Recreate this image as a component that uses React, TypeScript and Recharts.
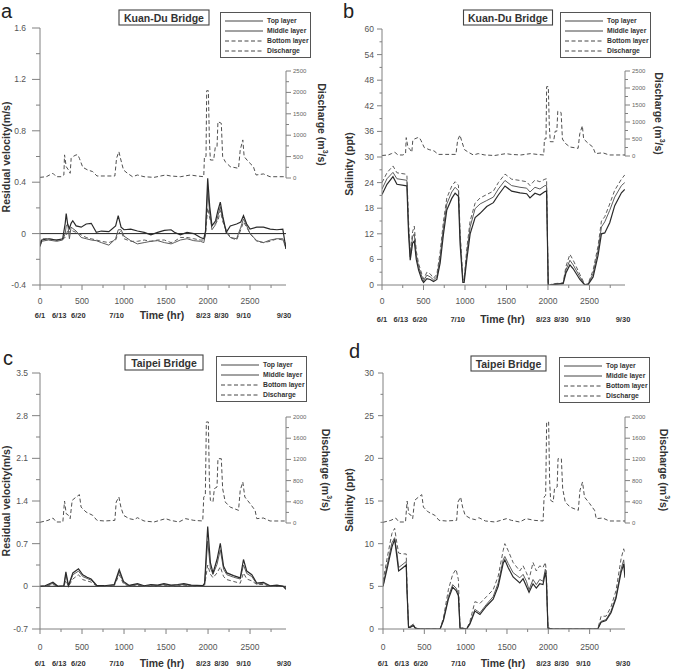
import { ComposedChart, Legend, Line, ReferenceLine, XAxis, YAxis } from "recharts";

const FONT = "Arial, 'Liberation Sans', Helvetica, sans-serif";
const AXIS = "#808080";
const INK = "#333";
const END_HR = 2928;

// time axis (hours from 6/1) and calendar marks
const hourTicks = [0, 250, 500, 750, 1000, 1250, 1500, 1750, 2000, 2250, 2500, 2750];
const dateHours = [0, 288, 456, 936, 1992, 2160, 2424, 2904];
const dateLabels = ["6/1", "6/13", "6/20", "7/10", "8/23", "8/30", "9/10", "9/30"];
// small sideways nudges so crowded date marks don't collide
const dateNudge = [0, -5, 0, -2, -4, 0, 0, 0];
const seriesNames = ["Top layer", "Middle layer", "Bottom layer", "Discharge"];

// river discharge (m3/s)
const qHoursKD = [
  0, 75, 114, 154, 193, 252, 284, 292, 312, 339,
  359, 371, 391, 430, 450, 469, 509, 568, 627, 678,
  765, 891, 911, 939, 963, 994, 1041, 1101, 1160, 1239,
  1357, 1495, 1554, 1673, 1791, 1870, 1949, 1957, 1976, 1984,
  2004, 2016, 2028, 2067, 2087, 2107, 2118, 2158, 2174, 2205,
  2264, 2363, 2383, 2414, 2430, 2481, 2540, 2572, 2659, 2738,
  2928,
];
const qKD = [
  15, 30, 70, 110, 30, 30, 70, 540, 265, 187,
  110, 460, 500, 540, 540, 460, 250, 187, 150, 47,
  47, 47, 460, 615, 420, 187, 110, 30, 70, 30,
  15, 70, 47, 30, 70, 47, 30, 500, 500, 2040,
  2040, 890, 420, 420, 730, 730, 1316, 1278, 500, 380,
  265, 226, 655, 890, 500, 380, 265, 70, 95, 30,
  30,
];
const qHoursTP = [
  0, 95, 154, 193, 272, 292, 312, 339, 359, 383,
  430, 469, 489, 548, 627, 678, 765, 891, 907, 939,
  963, 994, 1061, 1120, 1160, 1239, 1357, 1495, 1554, 1653,
  1732, 1830, 1937, 1949, 1968, 1980, 2004, 2016, 2028, 2059,
  2075, 2107, 2118, 2158, 2174, 2205, 2264, 2363, 2383, 2414,
  2438, 2501, 2560, 2580, 2659, 2738, 2928,
];
const qTP = [
  13, 50, 94, 19, 19, 415, 176, 145, 82, 428,
  490, 535, 300, 207, 145, 50, 38, 50, 396, 490,
  300, 145, 82, 63, 100, 38, 19, 82, 50, 19,
  82, 50, 38, 490, 522, 1906, 1906, 805, 428, 396,
  648, 679, 1214, 1214, 648, 396, 300, 239, 616, 774,
  490, 365, 239, 82, 94, 38, 38,
];

// (a) residual velocity, Kuan-Du Bridge
const hoursA = [
  0, 20, 100, 200, 270, 300, 312, 330, 350, 370,
  390, 430, 490, 550, 610, 670, 730, 820, 900, 931,
  965, 1000, 1080, 1160, 1240, 1320, 1400, 1480, 1560, 1600,
  1670, 1750, 1830, 1910, 1950, 1970, 1996, 2020, 2047, 2090,
  2118, 2146, 2177, 2217, 2265, 2340, 2390, 2422, 2460, 2500,
  2580, 2660, 2740, 2820, 2890, 2928,
];
const topA = [
  -0.1, -0.05, -0.04, -0.05, -0.04, 0.08, 0.155, 0.07, 0.04, 0.08,
  0.1, 0.06, 0.05, 0.075, 0.08, 0.01, 0.02, 0.015, 0.06, 0.14,
  0.05, 0.03, 0.035, 0.02, 0.01, -0.01, 0.01, 0.025, 0.03, 0.01,
  -0.01, 0.01, 0.0, -0.03, -0.04, 0.02, 0.43, 0.21, 0.06, 0.1,
  0.18, 0.245, 0.13, 0.01, 0.06, 0.075, 0.09, 0.14, 0.075, 0.035,
  0.05, 0.05, 0.035, 0.03, 0.035, -0.12,
];
const midA = [
  -0.1, -0.06, -0.05, -0.06, -0.05, 0.0, 0.06, 0.075, -0.04, 0.05,
  0.04, 0.02, -0.03, -0.04, -0.05, -0.055, -0.07, -0.09, -0.04, 0.03,
  0.03, -0.02, -0.055, -0.08, -0.07, -0.06, -0.055, -0.07, -0.08, -0.07,
  -0.05, -0.04, -0.055, -0.06, -0.07, 0.0, 0.34, 0.16, 0.03, 0.07,
  0.14, 0.21, 0.11, 0.01, -0.03, -0.04, 0.05, 0.115, 0.06, 0.0,
  -0.055, -0.07, -0.05, -0.04, -0.04, -0.12,
];
const botA = [
  -0.08, -0.04, -0.04, -0.05, -0.04, -0.03, -0.02, 0.03, 0.01, 0.03,
  0.02, 0.01, -0.01, -0.03, -0.04, -0.05, -0.06, -0.07, -0.05, 0.0,
  0.02, -0.04, -0.06, -0.06, -0.05, -0.06, -0.05, -0.05, -0.07, -0.06,
  -0.03, -0.03, -0.04, -0.05, -0.05, -0.01, 0.2, 0.12, 0.06, 0.08,
  0.1, 0.18, 0.09, 0.03, -0.03, -0.05, 0.03, 0.09, 0.05, 0.0,
  -0.06, -0.07, -0.06, -0.04, -0.05, -0.08,
];

// (b) salinity, Kuan-Du Bridge
const hoursB = [
  0, 60, 132, 180, 280, 300, 320, 340, 369, 389,
  413, 441, 481, 501, 541, 581, 621, 661, 701, 741,
  781, 841, 881, 921, 941, 974, 990, 1022, 1062, 1122,
  1182, 1262, 1342, 1402, 1482, 1562, 1663, 1743, 1783, 1843,
  1903, 1963, 1983, 2003, 2063, 2183, 2216, 2264, 2304, 2384,
  2444, 2484, 2544, 2604, 2644, 2684, 2744, 2804, 2885, 2925,
];
const topB = [
  21.2, 23.6, 25.4, 23.6, 23.3, 23.2, 12.0, 5.8, 9.8, 10.3,
  6.0, 3.5, 1.2, 0.6, 1.5, 1.3, 0.8, 1.3, 5.2, 12.0,
  17.6, 20.3, 21.5, 20.8, 9.6, 0.6, 0.6, 6.0, 12.0, 15.8,
  16.8, 18.4, 19.3, 21.1, 23.2, 22.0, 21.6, 21.4, 20.4, 21.5,
  21.1, 21.9, 22.0, -0.2, 0.1, 0.3, 2.8, 4.7, 3.8, 1.3,
  0.0, 0.1, 1.9, 7.0, 12.0, 12.2, 14.6, 18.6, 21.6, 22.4,
];
const midB = [
  22.5, 24.9, 26.4, 24.9, 24.6, 24.5, 13.6, 6.6, 11.3, 12.0,
  7.0, 4.3, 1.9, 1.0, 2.3, 1.9, 1.2, 1.9, 6.6, 13.6,
  19.0, 21.8, 22.9, 22.1, 11.3, 1.2, 1.2, 7.4, 13.6, 17.9,
  19.0, 19.8, 20.6, 22.5, 24.5, 23.3, 22.9, 22.7, 21.8, 22.9,
  22.5, 23.3, 23.3, -0.2, 0.2, 0.4, 3.5, 5.8, 4.7, 1.9,
  0.0, 0.2, 2.7, 8.2, 13.6, 14.8, 17.5, 20.6, 23.3, 24.0,
];
const botB = [
  24.0, 26.3, 27.9, 26.3, 26.0, 25.8, 15.0, 7.5, 12.5, 13.8,
  8.0, 5.0, 2.5, 1.4, 3.0, 2.6, 1.6, 2.5, 7.8, 15.0,
  20.4, 23.2, 24.2, 23.4, 12.5, 1.5, 1.5, 8.6, 15.0, 19.2,
  20.4, 21.2, 22.0, 24.0, 26.0, 24.8, 24.5, 24.2, 23.3, 24.6,
  24.2, 24.8, 24.9, -0.1, 0.3, 0.5, 4.3, 7.2, 5.8, 2.5,
  0.1, 0.3, 3.5, 9.2, 15.0, 16.0, 19.0, 22.2, 24.8, 25.8,
];

// (c) residual velocity, Taipei Bridge
const hoursC = [
  0, 60, 154, 213, 284, 308, 339, 391, 458, 509,
  560, 608, 678, 765, 884, 943, 994, 1061, 1160, 1239,
  1320, 1400, 1475, 1560, 1640, 1712, 1800, 1937, 1960, 1996,
  2028, 2059, 2107, 2146, 2185, 2225, 2304, 2383, 2422, 2461,
  2521, 2580, 2659, 2738, 2820, 2895, 2928,
];
const topC = [
  0.0, 0.01, 0.066, 0.0, 0.01, 0.237, 0.01, 0.22, 0.287, 0.19,
  0.15, 0.12, 0.01, 0.01, 0.03, 0.275, 0.08, 0.015, 0.044, 0.01,
  0.03, 0.02, 0.044, 0.02, 0.03, 0.044, 0.02, 0.01, 0.055, 0.98,
  0.39, 0.22, 0.44, 0.705, 0.33, 0.22, 0.176, 0.138, 0.44, 0.25,
  0.19, 0.055, 0.066, 0.01, 0.02, 0.0, -0.05,
];
const midC = [
  0.0, 0.0, 0.05, 0.0, 0.0, 0.2, 0.0, 0.19, 0.25, 0.16,
  0.13, 0.1, 0.01, 0.0, 0.02, 0.24, 0.06, 0.01, 0.03, 0.0,
  0.02, 0.01, 0.03, 0.01, 0.02, 0.03, 0.01, 0.0, 0.04, 0.74,
  0.3, 0.2, 0.36, 0.6, 0.28, 0.19, 0.15, 0.12, 0.35, 0.21,
  0.16, 0.04, 0.05, 0.0, 0.01, 0.0, -0.03,
];
const botC = [
  0.0, 0.0, 0.03, 0.0, 0.0, 0.1, 0.0, 0.12, 0.19, 0.11,
  0.09, 0.07, 0.0, 0.0, 0.01, 0.19, 0.04, 0.0, 0.02, 0.0,
  0.01, 0.0, 0.02, 0.0, 0.01, 0.02, 0.0, 0.0, 0.02, 0.35,
  0.2, 0.14, 0.22, 0.32, 0.16, 0.11, 0.08, 0.05, 0.22, 0.12,
  0.09, 0.03, 0.03, 0.0, 0.0, 0.0, -0.02,
];

// (d) salinity, Taipei Bridge
const hoursD = [
  0, 48, 108, 141, 169, 189, 229, 281, 289, 309,
  329, 369, 390, 450, 691, 731, 791, 843, 884, 912,
  932, 1012, 1052, 1112, 1173, 1253, 1333, 1394, 1454, 1474,
  1514, 1574, 1655, 1695, 1735, 1767, 1815, 1855, 1896, 1936,
  1964, 1976, 1996, 2056, 2598, 2639, 2699, 2759, 2819, 2880,
  2912, 2928,
];
const topD = [
  5.0, 7.0, 9.6, 10.5, 8.4, 6.8, 7.1, 7.5, 4.8, 0.2,
  0.2, 0.4, 0.1, 0.0, 0.0, 1.0, 3.5, 4.9, 4.5, 3.9,
  0.1, 0.0, 0.6, 2.1, 1.7, 2.7, 3.5, 5.0, 7.7, 8.1,
  7.2, 6.1, 5.4, 5.9, 5.0, 4.3, 5.3, 4.8, 5.3, 5.2,
  6.6, 5.9, 0.1, 0.0, 0.0, 0.8, 1.0, 1.9, 3.6, 6.6,
  7.6, 6.0,
];
const midD = [
  5.0, 7.4, 10.1, 10.7, 8.9, 7.2, 7.5, 7.9, 5.0, 0.2,
  0.3, 0.5, 0.1, 0.0, 0.0, 1.1, 3.8, 5.2, 4.8, 4.2,
  0.1, 0.0, 0.7, 2.3, 1.9, 2.9, 3.8, 5.4, 8.1, 8.5,
  7.7, 6.6, 6.0, 6.4, 5.6, 4.6, 5.8, 5.2, 5.8, 5.6,
  7.0, 6.2, 0.1, 0.0, 0.0, 0.9, 1.1, 2.1, 3.8, 7.0,
  8.1, 6.5,
];
const botD = [
  5.6, 8.2, 11.2, 11.8, 10.0, 8.9, 8.8, 8.8, 5.5, 0.2,
  0.3, 0.6, 0.1, 0.0, 0.0, 1.3, 4.6, 6.4, 7.0, 5.8,
  0.2, 0.0, 0.9, 3.2, 3.0, 3.8, 4.6, 6.2, 9.2, 10.0,
  9.2, 7.8, 6.8, 7.4, 6.6, 5.8, 7.8, 6.8, 7.4, 7.2,
  7.8, 6.8, 0.1, 0.0, 0.0, 1.5, 1.5, 2.6, 4.5, 8.2,
  9.4, 8.8,
];

// labelled axis values
const velMajorsA = [-0.4, 0, 0.4, 0.8, 1.2, 1.6];
const salMajorsB = [0, 6, 12, 18, 24, 30, 36, 42, 48, 54, 60];
const velMajorsC = [-0.7, 0, 0.7, 1.4, 2.1, 2.8, 3.5];
const salMajorsD = [0, 5, 10, 15, 20, 25, 30];
const qMajorsKD = [0, 500, 1000, 1500, 2000, 2500];
const qMajorsTP = [0, 400, 800, 1200, 1600, 2000];

const layerRows = (hours: number[], top: number[], mid: number[], bot: number[]) =>
  hours.map((t, i) => ({ t, top: top[i], mid: mid[i], bot: bot[i] }));
const flowRows = (hours: number[], q: number[]) => hours.map((t, i) => ({ t, q: q[i] }));

// majors plus the half-way minor ticks
const withMinors = (majors: number[]) => {
  const out: number[] = [];
  majors.forEach((m, i) => {
    out.push(m);
    if (i < majors.length - 1) out.push((m + majors[i + 1]) / 2);
  });
  return out;
};

const styles = {
  top: { stroke: "#2a2a2a", width: 1.2 },
  mid: { stroke: "#5c5c5c", width: 1 },
  bot: { stroke: "#5c5c5c", width: 1, dash: "4 2.5" },
  q: { stroke: "#505050", width: 1, dash: "4 2.5" },
};

// pixel layout of each panel (chart-local coordinates)
const panels = [
  {
    letter: "a", letterX: 1, letterY: 18, title: "Kuan-Du Bridge",
    left: 0, top: 0, width: 338, height: 330,
    x0: 40, x1: 286, y0: 28, y1: 285,
    yDomain: [-0.4, 1.6], yMajors: velMajorsA, yLabel: "Residual velocity(m/s)",
    yLabelX: 6, yLabelY: 157, tickGap: 14, tickLen: 8,
    q0Y: 178, qTopY: 71, qMajors: qMajorsKD, qLabelX: 322, qLabelY: 124.5,
    titleCx: 164, titleY: 10, titleW: 90, legendX: 220, legendY: 12,
    tickDy: 16, dateDy: 30, zeroLine: true,
    layers: layerRows(hoursA, topA, midA, botA), flow: flowRows(qHoursKD, qKD),
  },
  {
    letter: "b", letterX: 7, letterY: 18, title: "Kuan-Du Bridge",
    left: 336, top: 0, width: 340, height: 330,
    x0: 46, x1: 289, y0: 29, y1: 285,
    yDomain: [0, 60], yMajors: salMajorsB, yLabel: "Salinity (ppt)",
    yLabelX: 13, yLabelY: 164, tickGap: 8, tickLen: 5,
    q0Y: 156, qTopY: 71, qMajors: qMajorsKD, qLabelX: 323, qLabelY: 113.5,
    titleCx: 172, titleY: 10, titleW: 89, legendX: 224, legendY: 12,
    tickDy: 16, dateDy: 34, zeroLine: false,
    layers: layerRows(hoursB, topB, midB, botB), flow: flowRows(qHoursKD, qKD),
  },
  {
    letter: "c", letterX: 3, letterY: 35, title: "Taipei Bridge",
    left: 0, top: 330, width: 338, height: 340,
    x0: 40, x1: 286, y0: 43, y1: 299,
    yDomain: [-0.7, 3.5], yMajors: velMajorsC, yLabel: "Residual velocity(m/s)",
    yLabelX: 6, yLabelY: 171, tickGap: 12, tickLen: 8,
    q0Y: 193, qTopY: 87, qMajors: qMajorsTP, qLabelX: 326, qLabelY: 140,
    titleCx: 164, titleY: 25, titleW: 78, legendX: 216, legendY: 26,
    tickDy: 18, dateDy: 34, zeroLine: true,
    layers: layerRows(hoursC, topC, midC, botC), flow: flowRows(qHoursTP, qTP),
  },
  {
    letter: "d", letterX: 13, letterY: 28, title: "Taipei Bridge",
    left: 336, top: 330, width: 340, height: 340,
    x0: 47, x1: 289, y0: 43, y1: 299,
    yDomain: [0, 30], yMajors: salMajorsD, yLabel: "Salinity (ppt)",
    yLabelX: 13, yLabelY: 170, tickGap: 9, tickLen: 5,
    q0Y: 193, qTopY: 87, qMajors: qMajorsTP, qLabelX: 328, qLabelY: 140,
    titleCx: 172.5, titleY: 26, titleW: 75, legendX: 223, legendY: 27,
    tickDy: 18, dateDy: 34, zeroLine: false,
    layers: layerRows(hoursD, topD, midD, botD), flow: flowRows(qHoursTP, qTP),
  },
];

type PanelCfg = (typeof panels)[number];

function LegendBox(props: any) {
  const items = [...(props.payload ?? [])].sort(
    (a: any, b: any) => seriesNames.indexOf(a.value) - seriesNames.indexOf(b.value),
  );
  return (
    <div
      style={{
        width: 91, height: 46, boxSizing: "border-box", border: "1px solid #555",
        background: "#fff", padding: "3px 0 0 4px", fontFamily: FONT,
      }}
    >
      {items.map((it: any) => (
        <div key={it.value} style={{ display: "flex", alignItems: "center", height: 10 }}>
          <svg width={38} height={6} style={{ display: "block" }}>
            <line x1={0} x2={38} y1={3} y2={3} stroke="#444" strokeDasharray={it.payload?.strokeDasharray} />
          </svg>
          <span style={{ marginLeft: 4, fontSize: 6.8, fontWeight: 700, color: INK, lineHeight: "10px", whiteSpace: "nowrap" }}>
            {it.value}
          </span>
        </div>
      ))}
    </div>
  );
}

function Panel({ cfg }: { cfg: PanelCfg }) {
  const qMax = cfg.qMajors[cfg.qMajors.length - 1];
  const qSpan = cfg.q0Y - cfg.qTopY;
  const qLo = -((cfg.y1 - cfg.q0Y) / qSpan) * qMax;
  const qHi = qMax + ((cfg.qTopY - cfg.y0) / qSpan) * qMax;
  const txt = { fontFamily: FONT };

  // axes are 1px thick boxes (recharts skips empty ones), ticks drawn by hand
  const timeTick = (p: any) => {
    const v = p.payload.value;
    const major = v % 500 === 0;
    return (
      <g>
        <line x1={p.x} x2={p.x} y1={p.y} y2={p.y + (major ? 5 : 3)} stroke={AXIS} />
        {major && (
          <text x={p.x} y={p.y + cfg.tickDy} textAnchor="middle" dominantBaseline="central" fontSize={8.5} fill="#555" {...txt}>
            {v}
          </text>
        )}
      </g>
    );
  };

  const dateTick = (p: any) => {
    const i = dateHours.indexOf(p.payload.value);
    return (
      <text x={p.x + dateNudge[i]} y={cfg.y1 + cfg.dateDy} textAnchor="middle" dominantBaseline="central" fontSize={7.5} fontWeight={700} fill={INK} {...txt}>
        {dateLabels[i]}
      </text>
    );
  };

  const leftTick = (p: any) => {
    const v = p.payload.value;
    const major = cfg.yMajors.includes(v);
    return (
      <g>
        <line x1={p.x - (major ? cfg.tickLen : cfg.tickLen / 2)} x2={p.x} y1={p.y} y2={p.y} stroke={AXIS} />
        {major && (
          <text x={p.x - cfg.tickGap} y={p.y} textAnchor="end" dominantBaseline="central" fontSize={8.5} fill="#555" {...txt}>
            {v}
          </text>
        )}
      </g>
    );
  };

  const rightTick = (p: any) => {
    const v = p.payload.value;
    const major = cfg.qMajors.includes(v);
    return (
      <g>
        <line x1={p.x} x2={p.x + (major ? 5 : 3)} y1={p.y} y2={p.y} stroke={AXIS} />
        {major && (
          <text x={p.x + 7} y={p.y} dominantBaseline="central" fontSize={6} fill="#666" {...txt}>
            {v}
          </text>
        )}
      </g>
    );
  };

  return (
    <ComposedChart
      width={cfg.width}
      height={cfg.height}
      margin={{ top: cfg.y0, left: cfg.x0 - 1, right: cfg.width - cfg.x1 - 1, bottom: cfg.height - cfg.y1 - 2 }}
    >
      <XAxis
        dataKey="t" type="number" domain={[0, END_HR]} allowDataOverflow ticks={hourTicks} interval={0}
        height={1} tickSize={0} tickMargin={0} tick={timeTick} axisLine={{ stroke: AXIS }} tickLine={false}
      />
      <XAxis
        xAxisId="date" dataKey="t" type="number" domain={[0, END_HR]} allowDataOverflow ticks={dateHours} interval={0}
        height={1} tickSize={0} tickMargin={0} tick={dateTick} axisLine={false} tickLine={false}
        label={{
          content: () => (
            <text x={(cfg.x0 + cfg.x1) / 2 - 1} y={cfg.y1 + cfg.dateDy} textAnchor="middle" dominantBaseline="central" fontSize={10.5} fontWeight={700} fill={INK} {...txt}>
              Time (hr)
            </text>
          ),
        }}
      />
      <YAxis
        yAxisId="v" type="number" domain={cfg.yDomain} allowDataOverflow ticks={withMinors(cfg.yMajors)} interval={0}
        width={1} tickSize={0} tickMargin={0} tick={leftTick} axisLine={{ stroke: AXIS }} tickLine={false}
        label={{
          content: () => (
            <text
              x={cfg.yLabelX} y={cfg.yLabelY} transform={`rotate(-90 ${cfg.yLabelX} ${cfg.yLabelY})`}
              textAnchor="middle" dominantBaseline="central" fontSize={10.5} fontWeight={700} fill={INK} {...txt}
            >
              {cfg.yLabel}
            </text>
          ),
        }}
      />
      <YAxis
        yAxisId="q" orientation="right" type="number" domain={[qLo, qHi]} allowDataOverflow
        ticks={withMinors(cfg.qMajors)} interval={0}
        width={1} tickSize={0} tickMargin={0} tick={rightTick} axisLine={false} tickLine={false}
        label={{
          content: () => (
            <text
              x={cfg.qLabelX} y={cfg.qLabelY} transform={`rotate(90 ${cfg.qLabelX} ${cfg.qLabelY})`}
              textAnchor="middle" dominantBaseline="central" fontSize={10.5} fontWeight={700} fill={INK} {...txt}
            >
              Discharge (m<tspan dy={-4} fontSize={7}>3</tspan>
              <tspan dy={4}>/s)</tspan>
            </text>
          ),
        }}
      />
      <ReferenceLine
        yAxisId="q"
        segment={[{ x: END_HR, y: 0 }, { x: END_HR, y: qMax }]}
        stroke={AXIS}
        ifOverflow="visible"
      />
      {cfg.zeroLine && <ReferenceLine yAxisId="v" y={0} stroke="#222" />}

      <Line
        data={cfg.flow} dataKey="q" name="Discharge" yAxisId="q" type="linear" dot={false}
        stroke={styles.q.stroke} strokeWidth={styles.q.width} strokeDasharray={styles.q.dash} isAnimationActive={false}
      />
      <Line
        data={cfg.layers} dataKey="bot" name="Bottom layer" yAxisId="v" type="linear" dot={false}
        stroke={styles.bot.stroke} strokeWidth={styles.bot.width} strokeDasharray={styles.bot.dash} isAnimationActive={false}
      />
      <Line
        data={cfg.layers} dataKey="mid" name="Middle layer" yAxisId="v" type="linear" dot={false}
        stroke={styles.mid.stroke} strokeWidth={styles.mid.width} isAnimationActive={false}
      />
      <Line
        data={cfg.layers} dataKey="top" name="Top layer" yAxisId="v" type="linear" dot={false}
        stroke={styles.top.stroke} strokeWidth={styles.top.width} isAnimationActive={false}
      />

      <Legend
        layout="vertical" align="center" verticalAlign="middle" content={LegendBox}
        wrapperStyle={{ left: cfg.legendX, top: cfg.legendY, width: 91, height: 46 }}
      />

      <g>
        <text x={cfg.letterX} y={cfg.letterY} fontSize={20} fill="#222" {...txt}>
          {cfg.letter}
        </text>
        <rect x={cfg.titleCx - cfg.titleW / 2} y={cfg.titleY} width={cfg.titleW} height={15} fill="#fff" stroke="#444" strokeWidth={1.1} />
        <text x={cfg.titleCx} y={cfg.titleY + 7.5} textAnchor="middle" dominantBaseline="central" fontSize={10.5} fontWeight={700} fill={INK} {...txt}>
          {cfg.title}
        </text>
      </g>
    </ComposedChart>
  );
}

export default function App() {
  return (
    <div style={{ position: "absolute", left: 0, top: 0, width: 676, height: 670, background: "#fff" }}>
      {panels.map((cfg) => (
        <div key={cfg.letter} style={{ position: "absolute", left: cfg.left, top: cfg.top }}>
          <Panel cfg={cfg} />
        </div>
      ))}
    </div>
  );
}
